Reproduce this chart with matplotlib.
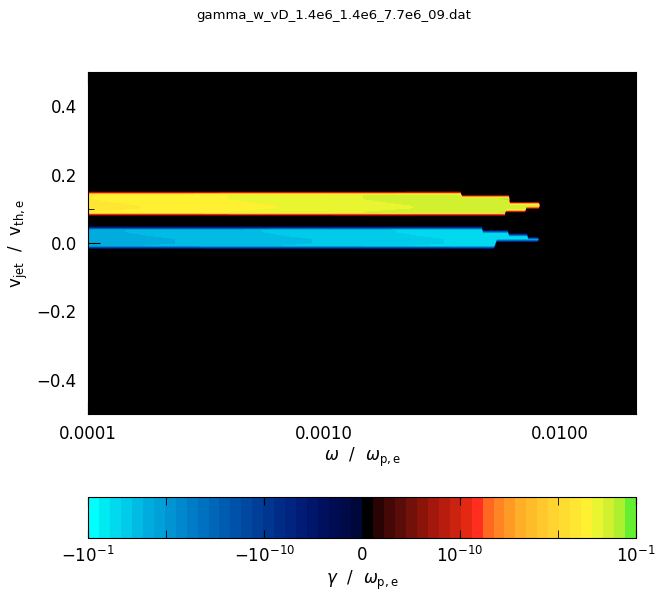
import numpy as np
import matplotlib
matplotlib.use('Agg')
import matplotlib.pyplot as plt
from matplotlib.colors import ListedColormap
from matplotlib.ticker import FixedLocator, FixedFormatter, MultipleLocator, NullFormatter

plt.rcParams['font.family'] = 'DejaVu Sans'
plt.rcParams['mathtext.fontset'] = 'dejavusans'

title = 'gamma_w_vD_1.4e6_1.4e6_7.7e6_09.dat'

# growth rate profile read at these frequencies (omega / omega_pe)
omega_nodes = [1e-4, 1e-3, 1e-2]
gamma_pos_nodes = [9.5e-5, 9.0e-4, 8.3e-3]     # yellow band
gamma_neg_nodes = [-7.0e-5, -6.5e-4, -6.5e-3]  # blue band

# rows of the two bands (v_jet / v_th,e), last frequency reached, row factor
pos_rows = [0.09, 0.10, 0.11, 0.12, 0.13, 0.14]
pos_cut = [5.85e-3, 7.1e-3, 8.2e-3, 6.1e-3, 6.1e-3, 3.8e-3]
pos_fac = [1.6, 1.0, 1.0, 1.3, 1.6, 1.6]

neg_rows = [-0.01, 0.00, 0.01, 0.02, 0.03, 0.04]
neg_cut = [5.3e-3, 5.4e-3, 8.2e-3, 7.3e-3, 6.1e-3, 4.7e-3]
neg_fac = [1.6, 1.0, 1.0, 1.3, 1.6, 1.6]

# colorbar tick labels
cb_ticks = [-14, -5, 0, 5, 14]
cb_labels = [r'$-10^{-1}$', r'$-10^{-10}$', '0', r'$10^{-10}$', r'$10^{-1}$']

neg_colors = ['#00ffff', '#00eaf2', '#00d9ee', '#00cbe9', '#00bbe3', '#00acdd',
              '#00a0d8', '#0094d2', '#0088cc', '#007cc6', '#0070c0', '#0066b8',
              '#005cb0', '#0052a8', '#0048a0', '#003e98', '#003590', '#002c88',
              '#002480', '#001c76', '#00166a', '#00105e', '#000c52', '#000a46',
              '#00083a']
pos_colors = ['#000000', '#2a0404', '#440806', '#5a0c08', '#72100a', '#8a140a',
              '#a2180c', '#b81c0e', '#cc2210', '#e42814', '#ff2e1e', '#ff6820',
              '#ff8424', '#ff9a24', '#ffae28', '#ffbc2a', '#ffc82c', '#ffd430',
              '#ffdc30', '#ffe632', '#fff032', '#e8f530', '#d0f030', '#acf030',
              '#64f030']
cmap = ListedColormap(neg_colors + pos_colors)

# grid
omega = np.logspace(-4, np.log10(0.021), 400)
vjet = np.round(np.linspace(-0.5, 0.5, 101), 2)
gamma = np.zeros((len(vjet), len(omega)))

lw = np.log10(omega)
for rows, cuts, facs, nodes in [(pos_rows, pos_cut, pos_fac, gamma_pos_nodes),
                                (neg_rows, neg_cut, neg_fac, gamma_neg_nodes)]:
    sgn = np.sign(nodes[0])
    lg = np.interp(lw, np.log10(omega_nodes), np.log10(np.abs(nodes)))
    for v, cut, fac in zip(rows, cuts, facs):
        i = np.argmin(np.abs(vjet - v))
        row = sgn * fac * 10 ** lg
        row[omega > cut] = 0.0
        gamma[i] = row

# signed log display value, 0 <-> 1e-15 (exact zero sits in the black band)
disp = np.full_like(gamma, 1e-6)
nz = gamma != 0
disp[nz] = np.sign(gamma[nz]) * (np.log10(np.abs(gamma[nz])) + 15)

fig = plt.figure(figsize=(6.67, 5.96), dpi=100)
ax = fig.add_axes([0.1319, 0.3054, 0.8216, 0.5738])
cax = fig.add_axes([0.1319, 0.0973, 0.8216, 0.0688])
ax.set_facecolor('black')

levels = np.linspace(-14, 14, 51)
cs = ax.contourf(omega, vjet, disp, levels=levels, cmap=cmap)
ax.set_xscale('log')
ax.set_xlim(1e-4, 0.021)
ax.set_ylim(-0.5, 0.5)

ax.xaxis.set_major_locator(FixedLocator([1e-4, 1e-3, 1e-2]))
ax.xaxis.set_major_formatter(FixedFormatter(['0.0001', '0.0010', '0.0100']))
ax.xaxis.set_minor_formatter(NullFormatter())
ax.yaxis.set_major_locator(MultipleLocator(0.2))
ax.yaxis.set_minor_locator(MultipleLocator(0.1))
ax.yaxis.set_major_formatter(plt.FuncFormatter(lambda v, p: ('%.1f' % v).replace('-', '\u2212')))
ax.tick_params(which='both', direction='in', top=True, right=True, color='black', labelsize=12)
ax.tick_params(which='major', length=8.5, pad=8)
ax.tick_params(which='minor', length=4.5)

ax.set_xlabel(r'$\omega\ \ /\ \ \omega_{\mathrm{p,e}}$', fontsize=12, labelpad=2)
ax.set_ylabel(r'$\mathrm{v_{jet}}\ \ /\ \ \mathrm{v_{th,e}}$', fontsize=12, labelpad=5)
fig.suptitle(title, fontsize=9.5, y=0.985)

cb = fig.colorbar(cs, cax=cax, orientation='horizontal')
cb.set_ticks(cb_ticks)
cb.set_ticklabels(cb_labels)
cb.ax.xaxis.set_minor_locator(FixedLocator([-10, 10]))
cb.ax.tick_params(which='both', direction='in', top=True, bottom=True, length=6, labelsize=12, pad=6)
cb.outline.set_edgecolor('black')
cb.set_label(r'$\gamma\ \ /\ \ \omega_{\mathrm{p,e}}$', fontsize=12, labelpad=2)

plt.savefig('out.png', dpi=100)
